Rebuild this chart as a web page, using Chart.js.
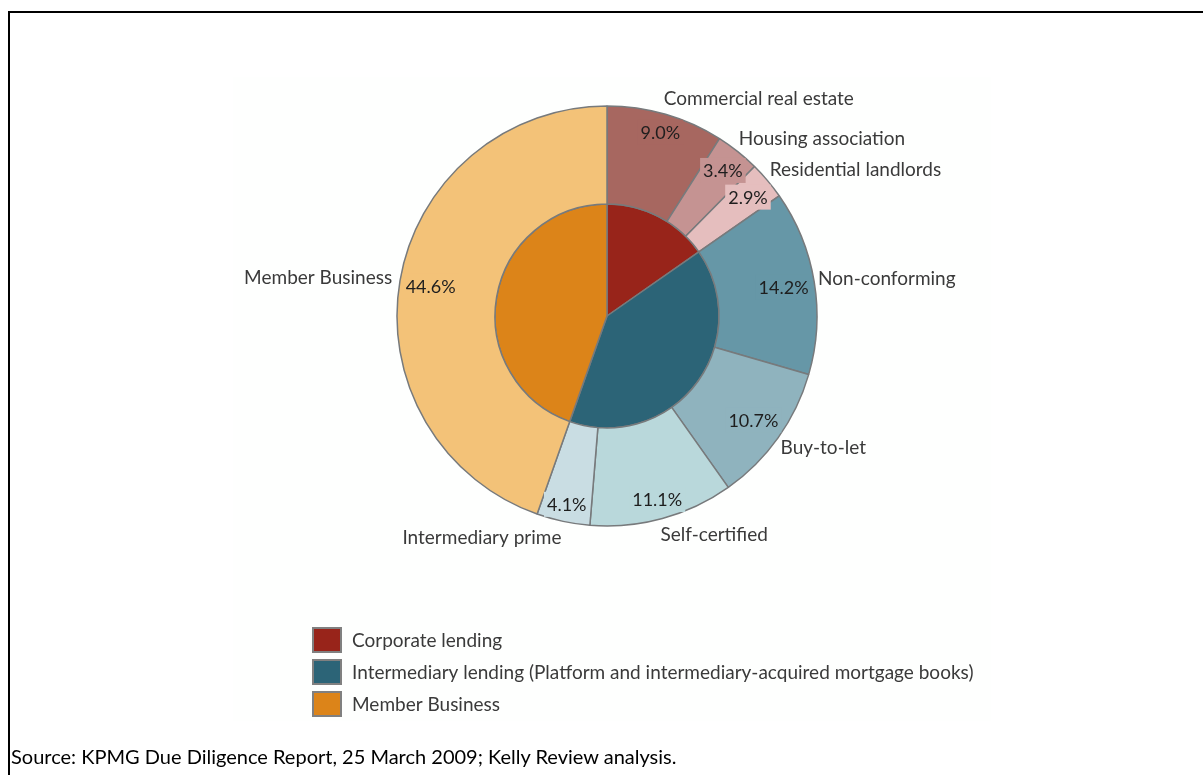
<!DOCTYPE html>
<html>
<head>
<meta charset="utf-8">
<script src="https://cdn.jsdelivr.net/npm/chart.js@4.4.0/dist/chart.umd.min.js"></script>
<style>
  html, body { margin: 0; padding: 0; background: #fff; overflow: hidden; }
  .frame { position: absolute; left: 8px; top: 11px; width: 1400px; height: 1000px; border: 2px solid #000; }
  .plotbg { position: absolute; left: 233px; top: 77px; width: 758px; height: 644px; background: #fefffe; }
  #pieChart { position: absolute; left: 0; top: 0; }
  .source { position: absolute; left: 11px; top: 744px; font: 20px Lato, sans-serif; color: #000; white-space: nowrap; }
</style>
</head>
<body>
<div class="frame"></div>
<div class="plotbg"></div>
<canvas id="pieChart" width="1203" height="775"></canvas>
<div class="source">Source: KPMG Due Diligence Report, 25 March 2009; Kelly Review analysis.</div>
<script>
// outer ring: lending segments (percent of total book)
const segmentLabels = ['Commercial real estate', 'Housing association', 'Residential landlords',
  'Non-conforming', 'Buy-to-let', 'Self-certified', 'Intermediary prime', 'Member Business'];
const segmentValues = [9.0, 3.4, 2.9, 14.2, 10.7, 11.1, 4.1, 44.6];
const segmentColors = ['#a76760', '#c59392', '#e5bebe', '#6697a7', '#8fb3be', '#b9d8db', '#c9dde3', '#f3c278'];

// inner pie: business lines
const groupLabels = ['Corporate lending',
  'Intermediary lending (Platform and intermediary-acquired mortgage books)', 'Member Business'];
const groupValues = [15.3, 40.1, 44.6];
const groupColors = ['#98241a', '#2c6477', '#dc8419'];

const nameFont = '19px Lato, sans-serif';
const pctFont = '18px Lato, sans-serif';
const legendFont = '19px Lato, sans-serif';

// percent labels inside the outer ring end + category names outside
const sliceLabels = {
  id: 'sliceLabels',
  afterDatasetsDraw(chart) {
    const ctx = chart.ctx;
    const meta = chart.getDatasetMeta(0);
    const values = chart.data.datasets[0].data;
    ctx.save();
    ctx.textBaseline = 'middle';
    meta.data.forEach((arc, i) => {
      const { x, y, startAngle, endAngle, outerRadius } = arc.getProps(['x', 'y', 'startAngle', 'endAngle', 'outerRadius'], true);
      const mid = (startAngle + endAngle) / 2;
      const ux = Math.cos(mid), uy = Math.sin(mid);

      // value label, fitted against the outer edge
      ctx.font = pctFont;
      const txt = values[i].toFixed(1) + '%';
      const w = ctx.measureText(txt).width, h = 17;
      const r = outerRadius - 5 - (Math.abs(ux) * w / 2 + Math.abs(uy) * h / 2);
      const cx = x + ux * r, cy = y + uy * r;
      ctx.fillStyle = segmentColors[i];
      ctx.fillRect(cx - w / 2 - 3, cy - h / 2 - 4, w + 6, h + 8);
      ctx.fillStyle = '#1e1e1e';
      ctx.textAlign = 'center';
      ctx.fillText(txt, cx, cy + 1);

      // category name outside the ring
      ctx.font = nameFont;
      const ax = x + ux * (outerRadius + 8), ay = y + uy * (outerRadius + 8);
      ctx.fillStyle = '#3a3a3a';
      ctx.textAlign = ux >= 0 ? 'left' : 'right';
      ctx.fillText(chart.data.labels[i], ax + (ux >= 0 ? -4 : 0), ay + uy * h / 2);
    });
    ctx.restore();
  }
};

// legend for the inner pie, stacked at lower left
const groupLegend = {
  id: 'groupLegend',
  afterDraw(chart) {
    const ctx = chart.ctx;
    const ds = chart.data.datasets[1];
    ctx.save();
    ctx.font = legendFont;
    ctx.textBaseline = 'middle';
    ds.labels.forEach((label, i) => {
      const top = 628 + i * 32;
      ctx.fillStyle = ds.backgroundColor[i];
      ctx.fillRect(313, top, 28, 24);
      ctx.strokeStyle = '#808080';
      ctx.lineWidth = 2;
      ctx.strokeRect(313, top, 28, 24);
      ctx.fillStyle = '#3a3a3a';
      ctx.textAlign = 'left';
      ctx.fillText(label, 352, top + 13);
    });
    ctx.restore();
  }
};

new Chart(document.getElementById('pieChart'), {
  type: 'doughnut',
  data: {
    labels: segmentLabels,
    datasets: [
      {
        data: segmentValues,
        backgroundColor: segmentColors,
        borderColor: '#777a7c',
        borderWidth: 1.5,
        weight: 98
      },
      {
        labels: groupLabels,
        data: groupValues,
        backgroundColor: groupColors,
        borderColor: '#777a7c',
        borderWidth: 1.5,
        weight: 112
      }
    ]
  },
  options: {
    responsive: false,
    animation: false,
    events: [],
    cutout: 0,
    radius: 210,
    layout: { padding: { left: 397, right: 386, top: 106, bottom: 249 } },
    plugins: {
      legend: { display: false },
      tooltip: { enabled: false }
    }
  },
  plugins: [sliceLabels, groupLegend]
});
</script>
</body>
</html>
